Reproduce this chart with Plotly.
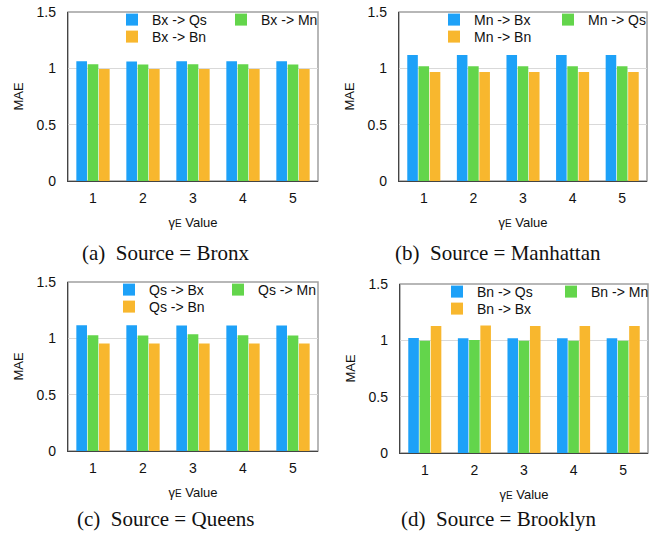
import plotly.graph_objects as go

W, H = 667, 535
categories = ["1", "2", "3", "4", "5"]

# Panel (a) Source = Bronx
a_names = ["Bx -> Qs", "Bx -> Mn", "Bx -> Bn"]
a_s1 = [1.062, 1.060, 1.062, 1.062, 1.062]
a_s2 = [1.036, 1.033, 1.036, 1.036, 1.033]
a_s3 = [0.995, 0.995, 0.995, 0.995, 0.995]

# Panel (b) Source = Manhattan
b_names = ["Mn -> Bx", "Mn -> Qs", "Mn -> Bn"]
b_s1 = [1.118, 1.118, 1.118, 1.118, 1.118]
b_s2 = [1.018, 1.018, 1.018, 1.018, 1.018]
b_s3 = [0.967, 0.967, 0.967, 0.967, 0.967]

# Panel (c) Source = Queens
c_names = ["Qs -> Bx", "Qs -> Mn", "Qs -> Bn"]
c_s1 = [1.117, 1.117, 1.114, 1.114, 1.114]
c_s2 = [1.028, 1.025, 1.037, 1.028, 1.025]
c_s3 = [0.954, 0.954, 0.954, 0.954, 0.954]

# Panel (d) Source = Brooklyn
d_names = ["Bn -> Qs", "Bn -> Mn", "Bn -> Bx"]
d_s1 = [1.021, 1.018, 1.018, 1.018, 1.018]
d_s2 = [0.997, 1.003, 0.997, 0.997, 0.997]
d_s3 = [1.128, 1.131, 1.128, 1.128, 1.128]

captions = ["(a)  Source = Bronx", "(b)  Source = Manhattan",
            "(c)  Source = Queens", "(d)  Source = Brooklyn"]
y_ticks = [0, 0.5, 1, 1.5]
y_ticktext = ["0", "0.5", "1", "1.5"]

colors = ["#1DA1F8", "#63D54B", "#F8B72E"]

panels = [
    (a_names, [a_s1, a_s2, a_s3]),
    (b_names, [b_s1, b_s2, b_s3]),
    (c_names, [c_s1, c_s2, c_s3]),
    (d_names, [d_s1, d_s2, d_s3]),
]

# plot areas in pixels: (left, right, top, bottom)
boxes = [(68, 318, 12, 181), (399, 647, 12, 181),
         (68, 318, 282, 451), (400, 648, 284, 453)]
# legend square positions (left, top) for first item and green item
leg_pos = [((126, 13), (235, 13)), ((448, 13), (562, 13)),
           ((123, 283), (232, 283)), ((451, 285), (565, 285))]

def px(x):
    return x / W

def py(y):
    return 1 - y / H

fig = go.Figure()
layout = {}
shapes = []
annotations = []
font_family = "Liberation Sans, Arial, Helvetica, sans-serif"

for i, (names, series) in enumerate(panels):
    k = "" if i == 0 else str(i + 1)
    xa, ya = "x" + k, "y" + k
    l, r, t, b = boxes[i]
    for j in range(3):
        leg_id = "legend" + ("" if i * 3 + j == 0 else str(i * 3 + j + 1))
        fig.add_trace(go.Bar(
            x=categories, y=series[j], name=names[j],
            marker=dict(color=colors[j], line=dict(width=0)),
            xaxis=xa, yaxis=ya, legend=leg_id, showlegend=True,
        ))
        (bx, by), (gx, gy) = leg_pos[i]
        if j == 0:
            lx, ly = bx, by
        elif j == 1:
            lx, ly = gx, gy
        else:
            lx, ly = bx, by + 17
        layout[leg_id] = dict(
            x=px(lx - 14), y=py(ly - 9), xanchor="left", yanchor="top",
            xref="paper", yref="paper",
            bgcolor="rgba(0,0,0,0)", borderwidth=0,
            font=dict(family=font_family, size=14, color="#111"),
            itemwidth=30,
        )
    layout["xaxis" + k] = dict(
        domain=[px(l), px(r)], anchor=ya, automargin=False,
        showline=True, linecolor="#444", linewidth=1.3, mirror=False,
        ticks="", showgrid=False, ticklabelstandoff=4,
        tickfont=dict(family=font_family, size=14, color="#111"),
        title=dict(text="γ<span style='font-size:10px'>E</span> Value",
                   font=dict(family=font_family, size=13, color="#111"),
                   standoff=12),
    )
    layout["yaxis" + k] = dict(
        domain=[py(b), py(t)], anchor=xa, range=[0, 1.5], automargin=False,
        tickvals=y_ticks, ticktext=y_ticktext,
        showline=True, linecolor="#444", linewidth=1.3, mirror=False,
        ticks="", showgrid=True, gridcolor="#D9D9D9", gridwidth=1,
        zeroline=False, ticklabelstandoff=8,
        tickfont=dict(family=font_family, size=14, color="#111"),
        title=dict(text="MAE", font=dict(family=font_family, size=13, color="#111"),
                   standoff=10),
    )
    shapes.append(dict(
        type="rect", xref=xa + " domain", yref=ya + " domain",
        x0=0, x1=1, y0=0, y1=1, line=dict(color="#A0A0A0", width=1.5),
        layer="below",
    ))
    col_center = (0 if i % 2 == 0 else 333) + 165
    cap_y = 253 if i < 2 else 519
    annotations.append(dict(
        text=captions[i], xref="paper", yref="paper",
        x=px(col_center), y=py(cap_y), xanchor="center", yanchor="middle",
        showarrow=False,
        font=dict(family="Liberation Serif, Times New Roman, serif", size=21, color="#111"),
    ))

fig.update_layout(
    width=W, height=H,
    margin=dict(l=0, r=0, t=0, b=0, autoexpand=False),
    paper_bgcolor="white", plot_bgcolor="white",
    barmode="group", bargap=0.32, bargroupgap=0.06,
    shapes=shapes, annotations=annotations,
    **layout,
)

fig.write_html("out.html", config={"displayModeBar": False},
               post_script="document.body.style.margin='0';")
